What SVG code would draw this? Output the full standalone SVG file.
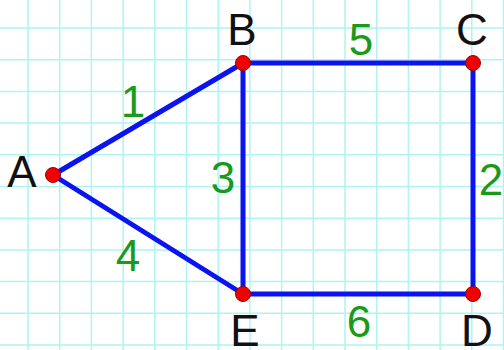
<svg xmlns="http://www.w3.org/2000/svg" width="504" height="350" viewBox="0 0 504 350">
<style>
.grid{stroke:#aef4f4;stroke-width:1.5;fill:none}
.edge{stroke:#0a14f0;stroke-width:5;stroke-linecap:round;fill:none}
.node{fill:#f00000;stroke:#a00000;stroke-width:1}
.lbl{font-family:"Liberation Sans",Arial,sans-serif;font-size:44px;fill:#111;text-anchor:middle}
.w{font-family:"Liberation Sans",Arial,sans-serif;font-size:44px;fill:#1a9a1a;text-anchor:middle}
</style>
<rect width="504" height="350" fill="#ffffff"/>
<g id="grid" class="grid">
<path d="M28 0V350M59.7 0V350M91.4 0V350M123.1 0V350M154.8 0V350M186.5 0V350M218.2 0V350M249.9 0V350M281.6 0V350M313.3 0V350M345 0V350M376.7 0V350M408.4 0V350M440.1 0V350M471.8 0V350M503.5 0V350"/>
<path d="M0 28H504M0 59.7H504M0 91.4H504M0 123.1H504M0 154.8H504M0 186.5H504M0 218.2H504M0 249.9H504M0 281.6H504M0 313.3H504M0 345H504"/>
</g>
<g id="connectors">
<line class="edge" x1="53" y1="175" x2="243" y2="63"/>
<line class="edge" x1="53" y1="175" x2="243" y2="294"/>
<line class="edge" x1="243" y1="63" x2="243" y2="294"/>
<line class="edge" x1="243" y1="63" x2="473" y2="63"/>
<line class="edge" x1="473" y1="63" x2="473" y2="294"/>
<line class="edge" x1="243" y1="294" x2="473" y2="294"/>
<text class="w" x="133" y="117">1</text>
<text class="w" x="361" y="55">5</text>
<text class="w" x="223" y="193">3</text>
<text class="w" x="491" y="195">2</text>
<text class="w" x="128" y="271">4</text>
<text class="w" x="359" y="337">6</text>
</g>
<g id="A"><circle class="node" cx="53" cy="175" r="7.5"/><text class="lbl" x="22" y="187">A</text></g>
<g id="B"><circle class="node" cx="243" cy="63" r="7.5"/><text class="lbl" x="242" y="45">B</text></g>
<g id="C"><circle class="node" cx="473" cy="63" r="7.5"/><text class="lbl" x="472" y="45">C</text></g>
<g id="D"><circle class="node" cx="473" cy="294" r="7.5"/><text class="lbl" x="477" y="346">D</text></g>
<g id="E"><circle class="node" cx="243" cy="294" r="7.5"/><text class="lbl" x="245" y="346">E</text></g>
</svg>
